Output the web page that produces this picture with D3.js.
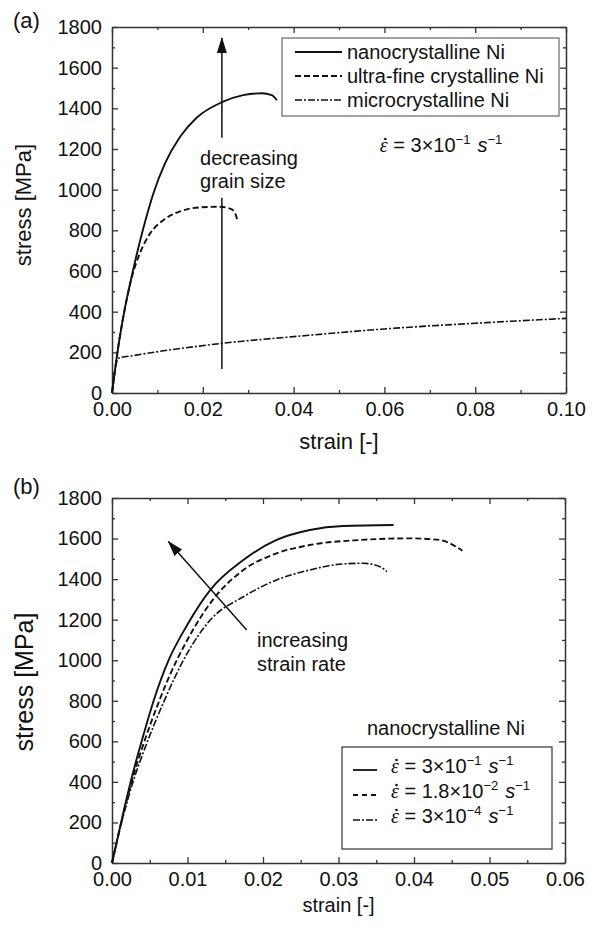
<!DOCTYPE html>
<html>
<head>
<meta charset="utf-8">
<script src="https://cdn.jsdelivr.net/npm/d3@7"></script>
<style>
  body { margin: 0; background: #fff; }
  svg text { font-family: "Liberation Sans", Arial, sans-serif; fill: #111; }
</style>
</head>
<body>
<svg id="chart" width="599" height="928"></svg>
<script>
// ---- data (strain [-], stress [MPa]) ----
// panel (a): strain rate 3e-1 1/s, different grain sizes
const nanoA = [[0,0],[0.0012,200],[0.0027,400],[0.0046,600],[0.0069,810],[0.0091,980],[0.0117,1130],[0.015,1260],[0.0187,1355],[0.0242,1430],[0.0289,1465],[0.033,1474],[0.0352,1465],[0.0363,1440]];
const ultraA = [[0,0],[0.0012,200],[0.0027,400],[0.0045,580],[0.0062,690],[0.0084,785],[0.0113,850],[0.015,893],[0.0194,913],[0.0238,916],[0.0262,905],[0.0272,880],[0.0276,850]];
const microA = [[0,0],[0.0014,171],[0.0047,184],[0.0242,244],[0.0414,280],[0.06,315],[0.08,343],[0.10,367]];
const legendA = ["nanocrystalline Ni", "ultra-fine crystalline Ni", "microcrystalline Ni"];

// panel (b): nanocrystalline Ni, different strain rates
const rate1B = [[0,0],[0.0012,200],[0.0025,405],[0.004,610],[0.0056,810],[0.0075,1000],[0.0099,1170],[0.013,1346],[0.0174,1494],[0.0218,1593],[0.0262,1642],[0.0306,1662],[0.0373,1667]];
const rate2B = [[0,0],[0.0012,195],[0.0026,400],[0.0042,590],[0.006,775],[0.0077,930],[0.0099,1095],[0.0134,1300],[0.0174,1445],[0.0218,1527],[0.0262,1568],[0.0329,1593],[0.0395,1601],[0.0434,1593],[0.0452,1568],[0.0464,1540]];
const rate3B = [[0,0],[0.0012,190],[0.0027,390],[0.0045,580],[0.0068,790],[0.0099,1030],[0.013,1198],[0.0174,1313],[0.0218,1396],[0.0262,1445],[0.0306,1475],[0.0333,1478],[0.0355,1461],[0.0364,1437]];
const legendB = [["3", "\u22121"], ["1.8", "\u22122"], ["3", "\u22124"]];

// ticks
const xMajorA = [0, 0.02, 0.04, 0.06, 0.08, 0.10];
const xMinorA = [0.01, 0.03, 0.05, 0.07, 0.09];
const xMajorB = [0, 0.01, 0.02, 0.03, 0.04, 0.05, 0.06];
const xMinorB = [0.005, 0.015, 0.025, 0.035, 0.045, 0.055];
const yMajor = d3.range(0, 1801, 200);
const yMinor = d3.range(100, 1800, 200);

// annotation anchors (data coords)
const arrowA = [[0.0242, 118], [0.0242, 1746]];
const arrowGapA = [960, 1255];
const arrowB = [[0.01784, 1149], [0.00746, 1585]];

const svg = d3.select("#chart");
const dashes = ["none", "6,3", "7,2,2,2"];

svg.append("defs").append("marker")
  .attr("id", "head")
  .attr("viewBox", "0 -5 16 10")
  .attr("refX", 15)
  .attr("refY", 0)
  .attr("markerUnits", "userSpaceOnUse")
  .attr("markerWidth", 16)
  .attr("markerHeight", 10)
  .attr("orient", "auto")
  .append("path")
  .attr("d", "M0,-5L16,0L0,5Z")
  .attr("fill", "#111");

// epsilon-dot rate label: text built from tspans, the dot drawn above the epsilon
function rateLabel(parent, tx, ty, mant, exp) {
  const text = parent.append("text").attr("x", tx).attr("y", ty).attr("font-size", 20);
  text.append("tspan")
    .style("font-family", "'Liberation Serif', serif")
    .style("font-style", "italic")
    .text("\u03B5");
  text.append("tspan").text(" = " + mant + "\u00D710");
  text.append("tspan").attr("font-size", 13).attr("dy", -8).text(exp);
  text.append("tspan").attr("dy", 8).attr("dx", 7).style("font-style", "italic").text("s");
  text.append("tspan").attr("font-size", 13).attr("dy", -8).text("\u22121");
  parent.append("circle").attr("cx", tx + 5.5).attr("cy", ty - 13).attr("r", 1.3).attr("fill", "#111");
}

function drawPanel(p) {
  const x = d3.scaleLinear().domain(p.xDomain).range([p.left, p.right]);
  const y = d3.scaleLinear().domain([0, 1800]).range([p.bottom, p.top]);
  const g = svg.append("g");

  // axes: ticks point inwards on all four sides
  const styleAxis = (a) => {
    a.attr("color", "#333").attr("font-size", 20).attr("font-family", null);
    a.select(".domain").attr("stroke-width", 1.5);
    a.selectAll(".tick line").attr("stroke-width", 1.3);
  };
  g.append("g").attr("transform", `translate(0,${p.bottom})`)
    .call(d3.axisBottom(x).tickValues(p.xMajor).tickFormat(d3.format(".2f")).tickSizeInner(-6).tickSizeOuter(0).tickPadding(9))
    .call(styleAxis);
  g.append("g").attr("transform", `translate(0,${p.top})`)
    .call(d3.axisTop(x).tickValues(p.xMajor).tickFormat("").tickSizeInner(-6).tickSizeOuter(0))
    .call(styleAxis);
  g.append("g").attr("transform", `translate(${p.left},0)`)
    .call(d3.axisLeft(y).tickValues(yMajor).tickFormat(d3.format("d")).tickSizeInner(-6).tickSizeOuter(0).tickPadding(10))
    .call(styleAxis);
  g.append("g").attr("transform", `translate(${p.right},0)`)
    .call(d3.axisRight(y).tickValues(yMajor).tickFormat("").tickSizeInner(-6).tickSizeOuter(0))
    .call(styleAxis);

  // minor ticks
  [[d3.axisBottom(x).tickValues(p.xMinor), `translate(0,${p.bottom})`],
   [d3.axisTop(x).tickValues(p.xMinor), `translate(0,${p.top})`],
   [d3.axisLeft(y).tickValues(yMinor), `translate(${p.left},0)`],
   [d3.axisRight(y).tickValues(yMinor), `translate(${p.right},0)`]].forEach(([ax, tr]) => {
    const m = g.append("g").attr("transform", tr)
      .call(ax.tickFormat("").tickSizeInner(-3).tickSizeOuter(0))
      .call(styleAxis);
    m.select(".domain").remove();
  });

  // curves
  const line = d3.line().x((d) => x(d[0])).y((d) => y(d[1])).curve(d3.curveMonotoneX);
  g.append("g").selectAll("path")
    .data(p.series)
    .join("path")
    .attr("d", line)
    .attr("fill", "none")
    .attr("stroke", "#111")
    .attr("stroke-width", (d, i) => (i === 2 ? 1.6 : 1.9))
    .attr("stroke-dasharray", (d, i) => dashes[i]);

  // axis titles and panel letter
  g.append("text")
    .attr("x", (p.left + p.right) / 2)
    .attr("y", p.xTitleY)
    .attr("text-anchor", "middle")
    .attr("font-size", p.xTitleSize)
    .text("strain [-]");
  g.append("text")
    .attr("transform", `translate(${p.yTitleX},${p.yTitleMid}) rotate(-90)`)
    .attr("text-anchor", "middle")
    .attr("font-size", p.yTitleSize)
    .text("stress [MPa]");
  g.append("text")
    .attr("x", 13)
    .attr("y", p.letterY)
    .attr("font-size", 22)
    .text(p.letter);

  return { g, x, y };
}

// ---------- panel (a) ----------
const a = drawPanel({
  left: 112, right: 566, top: 27, bottom: 393,
  xDomain: [0, 0.1], xMajor: xMajorA, xMinor: xMinorA,
  series: [nanoA, ultraA, microA],
  xTitleY: 449, xTitleSize: 22, yTitleX: 31, yTitleMid: 205, yTitleSize: 22,
  letter: "(a)", letterY: 28
});

// vertical arrow broken by its label
a.g.append("line")
  .attr("x1", a.x(arrowA[0][0])).attr("y1", a.y(arrowA[0][1]))
  .attr("x2", a.x(arrowA[0][0])).attr("y2", a.y(arrowGapA[0]))
  .attr("stroke", "#111").attr("stroke-width", 1.5);
a.g.append("line")
  .attr("x1", a.x(arrowA[1][0])).attr("y1", a.y(arrowGapA[1]))
  .attr("x2", a.x(arrowA[1][0])).attr("y2", a.y(arrowA[1][1]))
  .attr("stroke", "#111").attr("stroke-width", 1.5)
  .attr("marker-end", "url(#head)");
a.g.append("text").attr("x", a.x(0.0194)).attr("y", a.y(1121)).attr("font-size", 20).text("decreasing");
a.g.append("text").attr("x", a.x(0.0194)).attr("y", a.y(1008)).attr("font-size", 20).text("grain size");

rateLabel(a.g, a.x(0.059), a.y(1185), "3", "\u22121");

// legend (a)
const legA = a.g.append("g").attr("transform", "translate(282,38)");
legA.append("rect").attr("width", 277).attr("height", 78).attr("fill", "#fff").attr("stroke", "#666").attr("stroke-width", 1.2);
legendA.forEach((name, i) => {
  legA.append("line")
    .attr("x1", 13).attr("x2", 60).attr("y1", 14 + i * 24).attr("y2", 14 + i * 24)
    .attr("stroke", "#111").attr("stroke-width", i === 2 ? 1.4 : 1.8)
    .attr("stroke-dasharray", dashes[i]);
  legA.append("text").attr("x", 65).attr("y", 21 + i * 24).attr("font-size", 20).text(name);
});

// ---------- panel (b) ----------
const b = drawPanel({
  left: 112, right: 565, top: 498, bottom: 863,
  xDomain: [0, 0.06], xMajor: xMajorB, xMinor: xMinorB,
  series: [rate1B, rate2B, rate3B],
  xTitleY: 912, xTitleSize: 20, yTitleX: 33, yTitleMid: 682, yTitleSize: 25,
  letter: "(b)", letterY: 494
});

b.g.append("line")
  .attr("x1", b.x(arrowB[0][0])).attr("y1", b.y(arrowB[0][1]))
  .attr("x2", b.x(arrowB[1][0])).attr("y2", b.y(arrowB[1][1]))
  .attr("stroke", "#111").attr("stroke-width", 1.5)
  .attr("marker-end", "url(#head)");
b.g.append("text").attr("x", b.x(0.0192)).attr("y", b.y(1065)).attr("font-size", 20).text("increasing");
b.g.append("text").attr("x", b.x(0.0192)).attr("y", b.y(947)).attr("font-size", 20).text("strain rate");

// legend (b)
b.g.append("text").attr("x", 367).attr("y", 735).attr("font-size", 20).text("nanocrystalline Ni");
const legB = b.g.append("g").attr("transform", "translate(342,747)");
legB.append("rect").attr("width", 210).attr("height", 102).attr("fill", "#fff").attr("stroke", "#333").attr("stroke-width", 1.2);
legendB.forEach(([mant, exp], i) => {
  legB.append("line")
    .attr("x1", 11).attr("x2", 35).attr("y1", 23 + i * 25).attr("y2", 23 + i * 25)
    .attr("stroke", "#111").attr("stroke-width", i === 2 ? 1.4 : 1.8)
    .attr("stroke-dasharray", i === 1 ? "5,4" : dashes[i]);
  rateLabel(legB, 49, 26 + i * 25, mant, exp);
});
</script>
</body>
</html>
